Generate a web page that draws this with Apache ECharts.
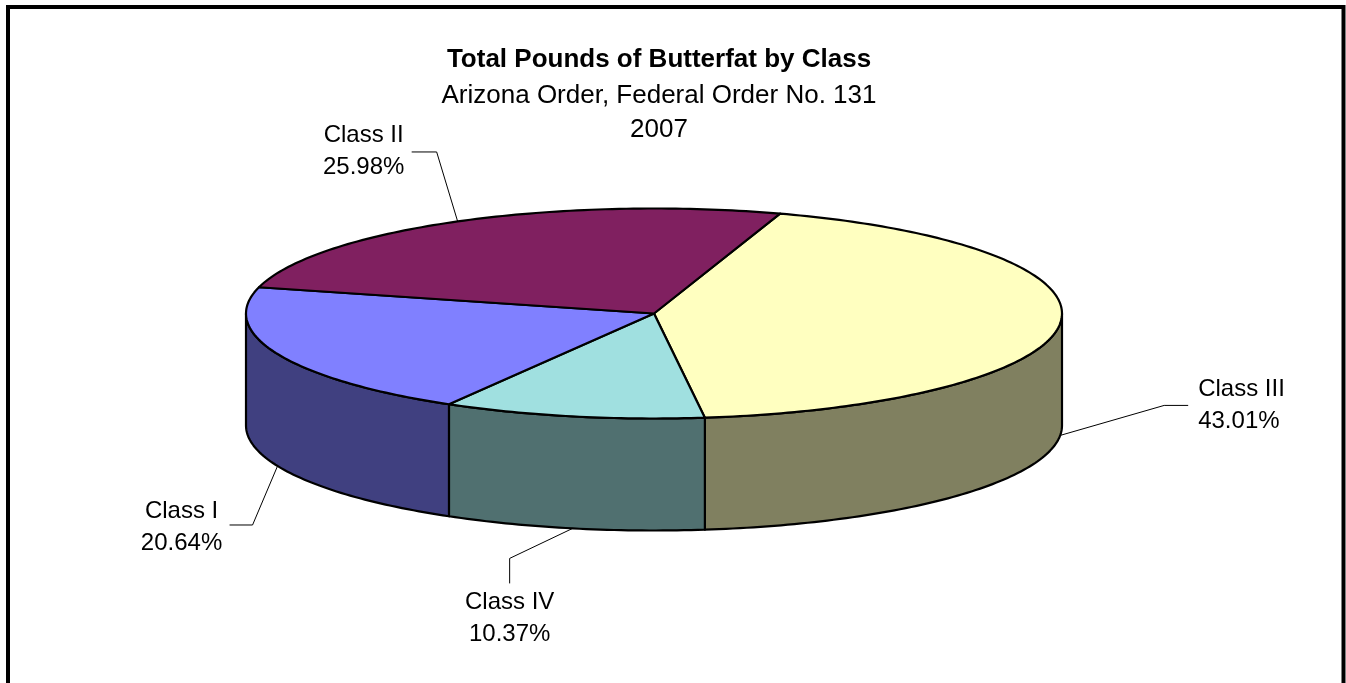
<!DOCTYPE html>
<html>
<head>
<meta charset="utf-8">
<script src="https://cdn.jsdelivr.net/npm/echarts@6/dist/echarts.min.js"></script>
<style>
  html, body { margin: 0; padding: 0; background: #fff; }
  #chart { width: 1346px; height: 683px; }
</style>
</head>
<body>
<div id="chart"></div>
<script>
// data
const classNames = ['Class III', 'Class IV', 'Class I', 'Class II']
const classShares = [43.01, 10.37, 20.64, 25.98]
const topColors = ['#FFFFC0', '#A0E0E0', '#8080FF', '#802060']
const sideColors = ['#808060', '#507070', '#404080', '#401030']

// pie geometry (3d look, pie is an ellipse with a wall)
const pie = { cx: 654, cy: 313.5, rx: 408, ry: 105, depth: 112, startDeg: -72 }
// leader line layout relative to the anchor of each slice: elbow, end, text position
const labelLayout = [
    { elbow: [104, -30], end: [128, -30], text: [138, -30], align: 'left' },
    { elbow: [-63, 30], end: [-63, 55], text: [-63, 90], align: 'center' },
    { elbow: [-25, 59], end: [-48, 59], text: [-96, 61], align: 'center' },
    { elbow: [-21, -69.5], end: [-46, -69.5], text: [-94, -70], align: 'center' }
]

const labelFont = '24px "Liberation Sans", Arial, sans-serif'
const total = classShares.reduce((a, b) => a + b, 0)

const pt = (deg, dy) => {
    const t = deg * Math.PI / 180
    return [pie.cx + pie.rx * Math.cos(t), pie.cy + pie.ry * Math.sin(t) + dy]
}

const arcPoints = (a, b, dy) => {
    const pts = []
    const n = Math.max(2, Math.ceil(Math.abs(b - a)))
    for (let i = 0; i <= n; i++) {
        pts.push(pt(a + (b - a) * i / n, dy))
    }
    return pts
}

const renderSlice = (params, api) => {
    const idx = params.dataIndex
    let before = 0
    for (let i = 0; i < idx; i++) before += classShares[i]
    const s = pie.startDeg + before / total * 360
    const e = s + api.value(0) / total * 360
    const children = []

    // outer wall, only the front half (0..180 deg) can be seen
    const ranges = [[0, 180], [360, 540], [-360, -180]]
    ranges.forEach(([lo, hi]) => {
        const a = Math.max(s, lo)
        const b = Math.min(e, hi)
        if (b > a) {
            const topArc = arcPoints(a, b, 0)
            const botArc = arcPoints(b, a, pie.depth)
            children.push({
                type: 'polygon',
                z2: 1,
                shape: { points: topArc.concat(botArc) },
                style: { fill: sideColors[idx], stroke: '#000', lineWidth: 2.2, lineJoin: 'round' }
            })
        }
    })

    // top face
    children.push({
        type: 'polygon',
        z2: 5,
        shape: { points: [[pie.cx, pie.cy]].concat(arcPoints(s, e, 0)) },
        style: { fill: topColors[idx], stroke: '#000', lineWidth: 2.2, lineJoin: 'round' }
    })

    // label with leader line
    const mid = (s + e) / 2
    const front = Math.sin(mid * Math.PI / 180) > 0
    const anchor = pt(mid, front ? pie.depth : 0)
    const lay = labelLayout[idx]
    children.push({
        type: 'polyline',
        z2: 8,
        shape: {
            points: [
                anchor,
                [anchor[0] + lay.elbow[0], anchor[1] + lay.elbow[1]],
                [anchor[0] + lay.end[0], anchor[1] + lay.end[1]]
            ]
        },
        style: { stroke: '#000', lineWidth: 1, fill: null }
    })
    children.push({
        type: 'text',
        z2: 9,
        x: anchor[0] + lay.text[0],
        y: anchor[1] + lay.text[1],
        style: {
            text: classNames[idx] + '\n' + classShares[idx].toFixed(2) + '%',
            font: labelFont,
            fill: '#000',
            align: lay.align,
            verticalAlign: 'middle',
            lineHeight: 32
        }
    })

    return { type: 'group', children: children }
}

const myChart = echarts.init(document.getElementById('chart'), null, { renderer: 'canvas' })

myChart.setOption({
    backgroundColor: '#fff',
    animation: false,
    graphic: [
        {
            type: 'rect',
            shape: { x: 8, y: 7, width: 1335.5, height: 720 },
            style: { fill: null, stroke: '#000', lineWidth: 4 }
        },
        {
            type: 'text',
            x: 659, y: 60,
            style: {
                text: 'Total Pounds of Butterfat by Class',
                font: 'bold 26px "Liberation Sans", Arial, sans-serif',
                fill: '#000', align: 'center', verticalAlign: 'middle'
            }
        },
        {
            type: 'text',
            x: 659, y: 113,
            style: {
                text: 'Arizona Order, Federal Order No. 131\n2007',
                font: '26px "Liberation Sans", Arial, sans-serif',
                fill: '#000', align: 'center', verticalAlign: 'middle', lineHeight: 34
            }
        }
    ],
    series: [
        {
            type: 'custom',
            coordinateSystem: 'none',
            renderItem: renderSlice,
            data: classShares.map((v, i) => ({ name: classNames[i], value: [v, i] }))
        }
    ]
})
</script>
</body>
</html>
